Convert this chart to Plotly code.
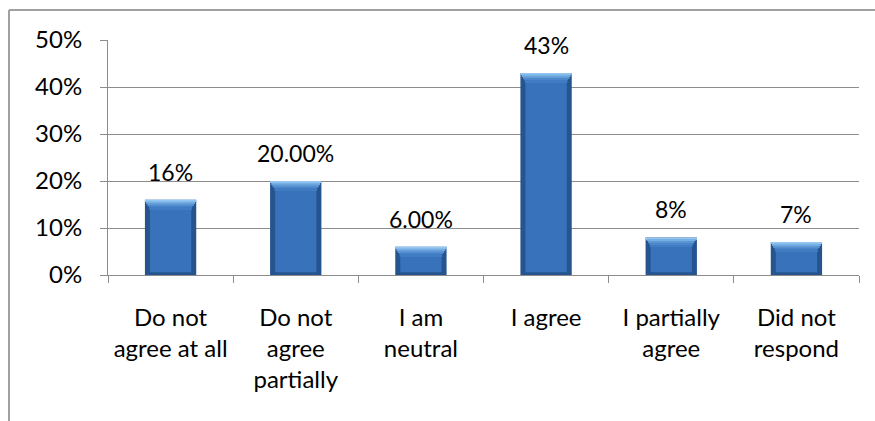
import plotly.graph_objects as go

categories = ["Do not<br>agree at all", "Do not<br>agree<br>partially", "I am<br>neutral",
              "I agree", "I partially<br>agree", "Did not<br>respond"]
values = [16, 20, 6, 43, 8, 7]
label_text = ["16%", "20.00%", "6.00%", "43%", "8%", "7%"]
y_ticks = [0, 10, 20, 30, 40, 50]
y_tick_text = ["0%", "10%", "20%", "30%", "40%", "50%"]

FONT = "Lato"
GRID = "#8c8c8c"

fig = go.Figure()

# outer body of each bar (darker rim)
fig.add_trace(go.Bar(x=categories, y=values, width=0.41,
                     marker=dict(color="#25548f", line=dict(width=0))))
# lighter inner face
fig.add_trace(go.Bar(x=categories, y=[v - 2.0 for v in values], base=0.6, width=0.33,
                     marker=dict(color="#3772bb", line=dict(width=0))))
# bevelled top: stacked strips narrowing downward
bevel = [(0.0, 0.35, 0.41, "#93c6f2"), (0.35, 0.75, 0.39, "#78afe3"),
         (0.75, 1.15, 0.37, "#5f99d5"), (1.15, 1.6, 0.35, "#4a86c9"),
         (1.6, 2.0, 0.34, "#3f7cc2")]
for top_off, bot_off, w, col in bevel:
    fig.add_trace(go.Bar(x=categories, y=[bot_off - top_off] * len(values),
                         base=[v - bot_off for v in values], width=w,
                         marker=dict(color=col, line=dict(width=0))))

for cat, v, t in zip(categories, values, label_text):
    fig.add_annotation(x=cat, y=v, xref="x", yref="y", text=t, showarrow=False,
                       yanchor="middle", yshift=28,
                       font=dict(family=FONT, size=23, color="#000000"))

# chart frame
x_left = (9 - 108) / 751
x_right = (875 - 108) / 751
y_top = 1 + 30 / 235
y_bot = (275 - 430) / 235
fig.add_shape(type="line", xref="paper", yref="paper", x0=x_left, x1=x_right,
              y0=y_top, y1=y_top, line=dict(color="#a0a0a0", width=2))
fig.add_shape(type="line", xref="paper", yref="paper", x0=x_left, x1=x_left,
              y0=y_top, y1=y_bot, line=dict(color="#a0a0a0", width=2))

fig.update_layout(
    width=875, height=421,
    margin=dict(l=108, r=16, t=40, b=146),
    paper_bgcolor="white", plot_bgcolor="white",
    barmode="overlay", showlegend=False,
    font=dict(family=FONT, size=24, color="#000000"),
)
fig.update_xaxes(
    type="category", showgrid=False, showline=True, linecolor=GRID, linewidth=1,
    ticks="outside", tickson="boundaries", ticklen=7, tickcolor=GRID,
    tickfont=dict(family=FONT, size=24), ticklabelstandoff=21,
)
fig.update_yaxes(
    range=[0, 50], tickvals=y_ticks, ticktext=y_tick_text,
    showgrid=True, gridcolor=GRID, gridwidth=1, zeroline=False,
    showline=True, linecolor=GRID, linewidth=1,
    ticks="outside", ticklen=7, tickcolor=GRID,
    tickfont=dict(family=FONT, size=24), ticklabelstandoff=13,
)

fig.write_html("out.html")
